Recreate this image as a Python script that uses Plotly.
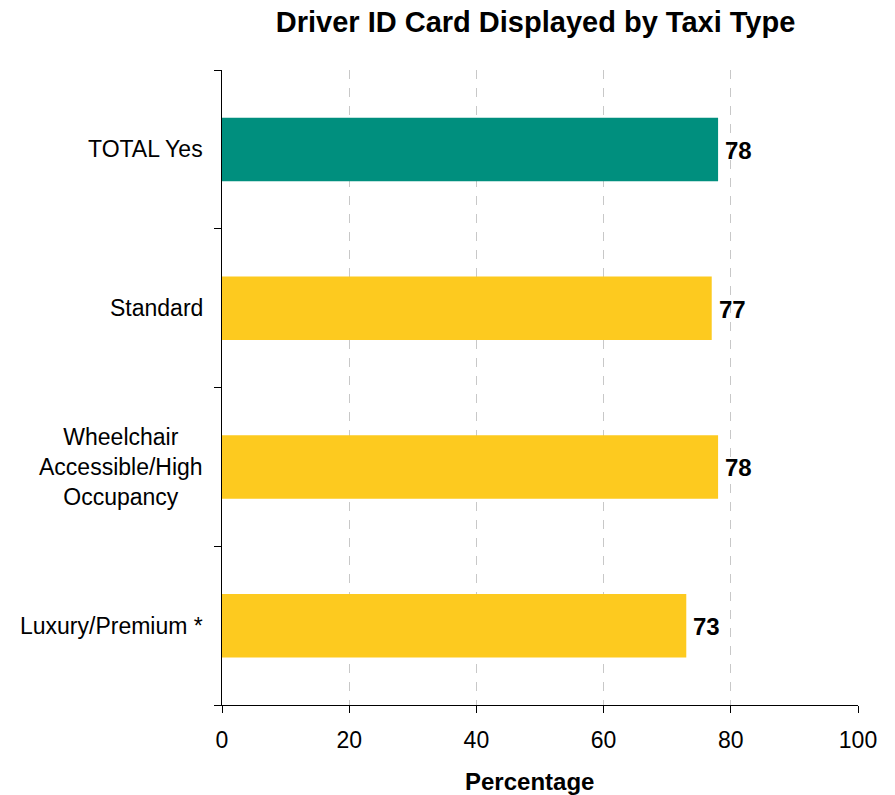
import plotly.graph_objects as go

# Share of taxis with the driver ID card displayed, by taxi type
categories = ["TOTAL Yes", "Standard", "Wheelchair<br>Accessible/High<br>Occupancy", "Luxury/Premium *"]
values = [78, 77, 78, 73]
bar_colors = ["#008f7e", "#fdca1f", "#fdca1f", "#fdca1f"]
x_ticks = [0, 20, 40, 60, 80, 100]

FONT = "Liberation Sans, Arial, Helvetica, sans-serif"

fig = go.Figure(
    go.Bar(
        x=values,
        y=categories,
        orientation="h",
        marker=dict(color=bar_colors, line=dict(width=0)),
        width=0.4,
        hoverinfo="x+y",
    )
)

# Value labels just past each bar end
for cat, v in zip(categories, values):
    fig.add_annotation(
        x=v, y=cat, xref="x", yref="y",
        text=f"<b>{v}</b>", showarrow=False,
        xanchor="left", xshift=5, yshift=-1,
        font=dict(family=FONT, size=24, color="black"),
    )

# Category labels, centred line by line, right of the label block at the axis
for cat in categories:
    fig.add_annotation(
        x=0, y=cat, xref="paper", yref="y",
        text=cat, showarrow=False,
        xanchor="right", align="center", xshift=-17,
        font=dict(family=FONT, size=23, color="black"),
    )

# Horizontal axis title
fig.add_annotation(
    x=0.483, y=-0.12, xref="paper", yref="paper",
    text="<b>Percentage</b>", showarrow=False,
    xanchor="center", yanchor="middle",
    font=dict(family=FONT, size=24, color="black"),
)

fig.update_layout(
    width=895,
    height=795,
    margin=dict(l=222, r=37, t=70, b=90),
    paper_bgcolor="white",
    plot_bgcolor="white",
    showlegend=False,
    font=dict(family=FONT, size=23, color="black"),
    title=dict(
        text="<b>Driver ID Card Displayed by Taxi Type</b>",
        x=0.493, xref="paper", xanchor="center",
        y=0.972, yref="container", yanchor="middle",
        font=dict(family=FONT, size=29, color="black"),
    ),
    xaxis=dict(
        range=[0, 100],
        tickvals=x_ticks,
        ticks="outside",
        ticklen=7,
        tickcolor="black",
        ticklabelstandoff=7,
        showline=True,
        linecolor="black",
        linewidth=1,
        showgrid=True,
        gridcolor="#c8c8c8",
        griddash="dash",
        gridwidth=1,
        zeroline=False,
        tickfont=dict(family=FONT, size=23, color="black"),
        fixedrange=True,
    ),
    yaxis=dict(
        categoryorder="array",
        categoryarray=categories[::-1],
        range=[-0.5, 3.5],
        tickson="boundaries",
        ticks="outside",
        ticklen=7,
        tickcolor="black",
        showticklabels=False,
        showline=True,
        linecolor="black",
        linewidth=1,
        showgrid=False,
        zeroline=False,
        fixedrange=True,
    ),
)

fig.write_html("out.html")
